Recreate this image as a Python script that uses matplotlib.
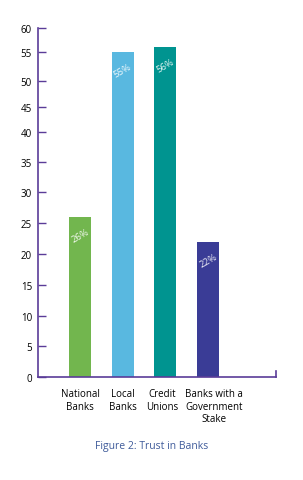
import matplotlib
matplotlib.use('Agg')
import matplotlib.pyplot as plt
import matplotlib.transforms as mtransforms
import numpy as np

# data
categories = ['National\nBanks', 'Local\nBanks', 'Credit\nUnions', 'Banks with a\nGovernment\nStake']
values = [26, 55, 56, 22]
labels = ['26%', '55%', '56%', '22%']
colors = ['#72B64E', '#59B8E0', '#009490', '#3A3C96']
yticks = [0, 5, 10, 15, 20, 25, 30, 35, 40, 45, 50, 55, 60]

# the original axis is drawn by hand: tick spacing shrinks near the top
tick_height = [0, 30.7, 61.3, 92, 122.7, 153.7, 184.7, 214.7, 245, 269.7, 296, 324.7, 349]

def fwd(v):
    return np.interp(v, yticks, tick_height, left=-1e3, right=1e3)

def inv(h):
    return np.interp(h, tick_height, yticks, left=-1e3, right=1e3)

plt.rcParams['font.family'] = ['Open Sans', 'DejaVu Sans']
purple = '#5A3C98'

fig = plt.figure(figsize=(3.03, 4.81), dpi=100)
ax = fig.add_axes([37.5/303, 103/481, 238.5/303, 349/481])
ax.set_yscale('function', functions=(fwd, inv))

x = np.arange(len(values))
ax.bar(x, values, width=0.515, color=colors, zorder=2)

for xi, v, lab in zip(x, values, labels):
    ax.annotate(lab, (xi, v), xytext=(0, -13), textcoords='offset points',
                ha='center', va='center', rotation=30, fontsize=6.8,
                color='white', alpha=0.9)

ax.set_xlim(-0.995, 4.59)
ax.set_ylim(0, 60)
ax.set_yticks(yticks)
ax.set_xticks(x)
ax.set_xticklabels(categories, fontsize=7, linespacing=1.2)
ax.tick_params(axis='x', length=0, pad=8)
ax.tick_params(axis='y', direction='in', length=6, width=1, color=purple,
               labelsize=7, pad=4)
ax.minorticks_off()

# nudge the two right-hand labels apart like in the original
tl = ax.get_xticklabels()
tl[2].set_transform(tl[2].get_transform() + mtransforms.ScaledTranslation(-3/100, 0, fig.dpi_scale_trans))
tl[3].set_transform(tl[3].get_transform() + mtransforms.ScaledTranslation(6/100, 0, fig.dpi_scale_trans))

for side in ['left', 'bottom', 'right']:
    ax.spines[side].set_color(purple)
    ax.spines[side].set_linewidth(1.2)
ax.spines['top'].set_visible(False)
ax.spines['right'].set_bounds(0, 1)

fig.text(0.5, 1 - 446/481, 'Figure 2: Trust in Banks', ha='center', va='center',
         fontsize=7.5, color='#3F5B9A')

fig.savefig('out.png', dpi=100)
